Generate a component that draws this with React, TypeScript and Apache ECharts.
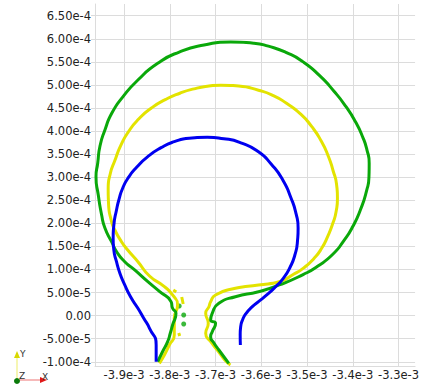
import React, { useEffect, useRef } from "react";
import * as echarts from "echarts";

const xTickValues = [-3.9e-3, -3.8e-3, -3.7e-3, -3.6e-3, -3.5e-3, -3.4e-3, -3.3e-3];
const yTickValues = [
  -1.0e-4, -5.0e-5, 0, 5.0e-5, 1.0e-4, 1.5e-4, 2.0e-4, 2.5e-4, 3.0e-4, 3.5e-4, 4.0e-4,
  4.5e-4, 5.0e-4, 5.5e-4, 6.0e-4, 6.5e-4,
];

const greenCurve = [
  [-3.8264e-3, -0.999e-4], [-3.8162e-3, -0.789e-4], [-3.8047e-3, -0.565e-4], [-3.7988e-3, -0.377e-4],
  [-3.7939e-3, -0.203e-4], [-3.7865e-3, 0.05e-4], [-3.7939e-3, 0.159e-4], [-3.7973e-3, 0.302e-4],
  [-3.8227e-3, 0.523e-4], [-3.848e-3, 0.735e-4], [-3.8768e-3, 0.989e-4], [-3.8985e-3, 1.168e-4],
  [-3.9158e-3, 1.379e-4], [-3.9273e-3, 1.602e-4], [-3.9418e-3, 1.899e-4], [-3.949e-3, 2.181e-4],
  [-3.9563e-3, 2.614e-4], [-3.9613e-3, 3.011e-4], [-3.9576e-3, 3.301e-4], [-3.9526e-3, 3.676e-4],
  [-3.9418e-3, 4.023e-4], [-3.9266e-3, 4.391e-4], [-3.9022e-3, 4.745e-4], [-3.8697e-3, 5.106e-4],
  [-3.8264e-3, 5.468e-4], [-3.7794e-3, 5.713e-4], [-3.7252e-3, 5.865e-4], [-3.6667e-3, 5.93e-4],
  [-3.6169e-3, 5.905e-4], [-3.5844e-3, 5.84e-4], [-3.5448e-3, 5.70e-4],
  [-3.5086e-3, 5.50e-4], [-3.4724e-3, 5.20e-4], [-3.4415e-3, 4.868e-4], [-3.4148e-3, 4.528e-4],
  [-3.3938e-3, 4.196e-4], [-3.3786e-3, 3.878e-4], [-3.3689e-3, 3.589e-4], [-3.3641e-3, 3.301e-4],
  [-3.3646e-3, 3.004e-4], [-3.3700e-3, 2.70e-4], [-3.3830e-3, 2.30e-4], [-3.4003e-3, 1.925e-4],
  [-3.4198e-3, 1.62e-4], [-3.4436e-3, 1.33e-4], [-3.4761e-3, 1.075e-4], [-3.5086e-3, 0.89e-4],
  [-3.5591e-3, 0.67e-4], [-3.6061e-3, 0.518e-4], [-3.6565e-3, 0.41e-4], [-3.6927e-3, 0.267e-4],
  [-3.7072e-3, 0.05e-4], [-3.7107e-3, -0.095e-4], [-3.6999e-3, -0.167e-4], [-3.7072e-3, -0.349e-4],
  [-3.7107e-3, -0.457e-4], [-3.7035e-3, -0.594e-4], [-3.6927e-3, -0.745e-4], [-3.671e-3, -1.034e-4],
];

const yellowCurve = [
  [-3.8227e-3, -1.034e-4], [-3.8118e-3, -0.854e-4], [-3.801e-3, -0.637e-4], [-3.7902e-3, -0.42e-4],
  [-3.7902e-3, -0.058e-4], [-3.783e-3, 0.23e-4], [-3.7939e-3, 0.447e-4], [-3.8118e-3, 0.627e-4],
  [-3.8443e-3, 0.859e-4], [-3.8697e-3, 1.168e-4], [-3.892e-3, 1.422e-4], [-3.9056e-3, 1.602e-4],
  [-3.9201e-3, 1.856e-4], [-3.9273e-3, 2.035e-4], [-3.9340e-3, 2.45e-4], [-3.9347e-3, 2.75e-4],
  [-3.9300e-3, 3.08e-4], [-3.9201e-3, 3.36e-4], [-3.9071e-3, 3.69e-4], [-3.8900e-3, 3.99e-4],
  [-3.8680e-3, 4.26e-4], [-3.8400e-3, 4.50e-4], [-3.810e-3, 4.68e-4], [-3.7780e-3, 4.82e-4],
  [-3.7469e-3, 4.915e-4], [-3.7144e-3, 4.975e-4], [-3.6884e-3, 4.995e-4], [-3.6494e-3, 4.975e-4],
  [-3.6061e-3, 4.885e-4], [-3.5736e-3, 4.77e-4], [-3.5448e-3, 4.601e-4], [-3.5151e-3, 4.38e-4],
  [-3.4900e-3, 4.10e-4], [-3.4690e-3, 3.784e-4], [-3.4530e-3, 3.444e-4], [-3.4430e-3, 3.14e-4],
  [-3.4355e-3, 2.85e-4], [-3.4335e-3, 2.55e-4], [-3.4365e-3, 2.25e-4], [-3.4436e-3, 2.00e-4],
  [-3.4545e-3, 1.725e-4], [-3.4680e-3, 1.459e-4], [-3.4848e-3, 1.24e-4], [-3.5086e-3, 1.025e-4],
  [-3.5303e-3, 0.89e-4], [-3.5591e-3, 0.74e-4], [-3.6061e-3, 0.664e-4], [-3.6565e-3, 0.592e-4],
  [-3.6999e-3, 0.447e-4], [-3.7107e-3, 0.302e-4], [-3.7144e-3, 0.193e-4], [-3.7215e-3, 0.05e-4],
  [-3.7159e-3, -0.167e-4], [-3.7215e-3, -0.383e-4], [-3.71e-3, -0.572e-4], [-3.6927e-3, -0.789e-4],
  [-3.6797e-3, -0.962e-4], [-3.6674e-3, -1.07e-4],
];

const blueCurve = [
  [-3.8298e-3, -0.999e-4], [-3.8298e-3, -0.637e-4], [-3.8443e-3, -0.275e-4], [-3.8573e-3, -0.052e-4],
  [-3.8697e-3, 0.159e-4], [-3.8855e-3, 0.403e-4], [-3.8985e-3, 0.664e-4], [-3.9093e-3, 0.924e-4],
  [-3.9165e-3, 1.168e-4], [-3.9223e-3, 1.422e-4], [-3.9238e-3, 1.676e-4], [-3.9223e-3, 1.964e-4],
  [-3.9165e-3, 2.289e-4], [-3.9110e-3, 2.52e-4], [-3.9030e-3, 2.76e-4], [-3.8900e-3, 3.0e-4],
  [-3.8720e-3, 3.22e-4], [-3.850e-3, 3.43e-4], [-3.819e-3, 3.64e-4], [-3.7902e-3, 3.77e-4],
  [-3.7577e-3, 3.845e-4], [-3.7181e-3, 3.865e-4], [-3.6819e-3, 3.835e-4], [-3.6429e-3, 3.74e-4],
  [-3.6061e-3, 3.55e-4], [-3.5780e-3, 3.28e-4], [-3.5530e-3, 2.94e-4], [-3.5350e-3, 2.55e-4],
  [-3.5240e-3, 2.21e-4], [-3.5195e-3, 1.90e-4], [-3.5210e-3, 1.60e-4], [-3.5266e-3, 1.314e-4],
  [-3.5368e-3, 1.054e-4], [-3.5519e-3, 0.809e-4], [-3.5693e-3, 0.62e-4], [-3.5881e-3, 0.447e-4],
  [-3.6061e-3, 0.302e-4], [-3.6190e-3, 0.20e-4], [-3.6330e-3, 0.05e-4], [-3.6410e-3, -0.095e-4],
  [-3.6450e-3, -0.24e-4], [-3.6461e-3, -0.42e-4], [-3.6457e-3, -0.637e-4],
];

const yellowFragments = [
  [-3.7923e-3, 0.555e-4], [-3.7859e-3, 0.512e-4], null,
  [-3.7739e-3, 0.403e-4], [-3.7707e-3, 0.252e-4], null,
  [-3.7804e-3, -0.377e-4], [-3.7783e-3, -0.442e-4],
];

const greenDots = [
  [-3.7794e-3, 0.208e-4], [-3.7696e-3, 0.013e-4], [-3.7696e-3, -0.182e-4],
];

const GREEN = "#0aa80a";
const YELLOW = "#e3e300";
const BLUE = "#0000f0";
const GRID = "#dcdcdc";
const FONT = "DejaVu Sans";

export default function App() {
  const ref = useRef<HTMLDivElement>(null);
  useEffect(() => {
    if (!ref.current) return;
    const chart = echarts.init(ref.current, null, { renderer: "svg" });
    const lineSeries = (name: string, data: any[], color: string) => ({
      name,
      type: "line",
      data,
      showSymbol: false,
      smooth: 0.6,
      connectNulls: false,
      lineStyle: { color, width: 3 },
      itemStyle: { color },
      silent: true,
    });
    chart.setOption({
      animation: false,
      backgroundColor: "#ffffff",
      grid: { left: 95, top: 4, right: 4, bottom: 22, containLabel: false },
      xAxis: {
        type: "value",
        min: -3.9635e-3,
        max: -3.2638e-3,
        axisLine: { show: true, onZero: false, lineStyle: { color: GRID, width: 1 } },
        axisTick: { show: false, customValues: xTickValues },
        axisLabel: {
          customValues: xTickValues,
          margin: 3,
          color: "#222",
          fontSize: 11.5,
          fontFamily: FONT,
          formatter: (v: number) => Number(v).toExponential(1),
        },
        splitLine: { show: true, lineStyle: { color: GRID, width: 1 } },
      },
      yAxis: {
        type: "value",
        min: -1.092e-4,
        max: 6.754e-4,
        axisLine: { show: true, onZero: false, lineStyle: { color: GRID, width: 1 } },
        axisTick: { show: true, length: 4, customValues: yTickValues, lineStyle: { color: GRID } },
        axisLabel: {
          customValues: yTickValues,
          margin: 4,
          color: "#222",
          fontSize: 11.5,
          fontFamily: FONT,
          formatter: (v: number) => (v === 0 ? "0.00" : Number(v).toExponential(2)),
        },
        splitLine: { show: true, lineStyle: { color: GRID, width: 1 } },
      },
      series: [
        lineSeries("yellow", yellowCurve, YELLOW),
        lineSeries("green", greenCurve, GREEN),
        lineSeries("blue", blueCurve, BLUE),
        { ...lineSeries("yellowFrag", yellowFragments, YELLOW), smooth: false },
        {
          name: "greenDots",
          type: "scatter",
          data: greenDots,
          symbolSize: 5,
          itemStyle: { color: GREEN },
          silent: true,
        },
      ],
      graphic: [
        { type: "line", shape: { x1: 17, y1: 380, x2: 17, y2: 356 }, style: { stroke: "#f0f080", lineWidth: 1.2 }, silent: true },
        { type: "polygon", shape: { points: [[14, 358], [20, 358], [17, 351]] }, style: { fill: "#d8d800" }, silent: true },
        { type: "line", shape: { x1: 17, y1: 380, x2: 42, y2: 380 }, style: { stroke: "#f08a8a", lineWidth: 1.2 }, silent: true },
        { type: "polygon", shape: { points: [[40, 377], [40, 383], [47, 380]] }, style: { fill: "#e01818" }, silent: true },
        { type: "circle", shape: { cx: 17, cy: 381, r: 3 }, style: { fill: "#0a7a0a" }, silent: true },
        { type: "text", x: 20, y: 349, style: { text: "Y", fontSize: 9, fontFamily: FONT, fill: "#333" }, silent: true },
        { type: "text", x: 19, y: 371, style: { text: "Z", fontSize: 9, fontFamily: FONT, fill: "#333" }, silent: true },
        { type: "text", x: 42, y: 372, style: { text: "X", fontSize: 9, fontFamily: FONT, fill: "#333" }, silent: true },
      ],
    });
    return () => chart.dispose();
  }, []);
  return (
    <div
      ref={ref}
      style={{ position: "absolute", left: 0, top: 0, width: 422, height: 388, background: "#fff" }}
    />
  );
}
